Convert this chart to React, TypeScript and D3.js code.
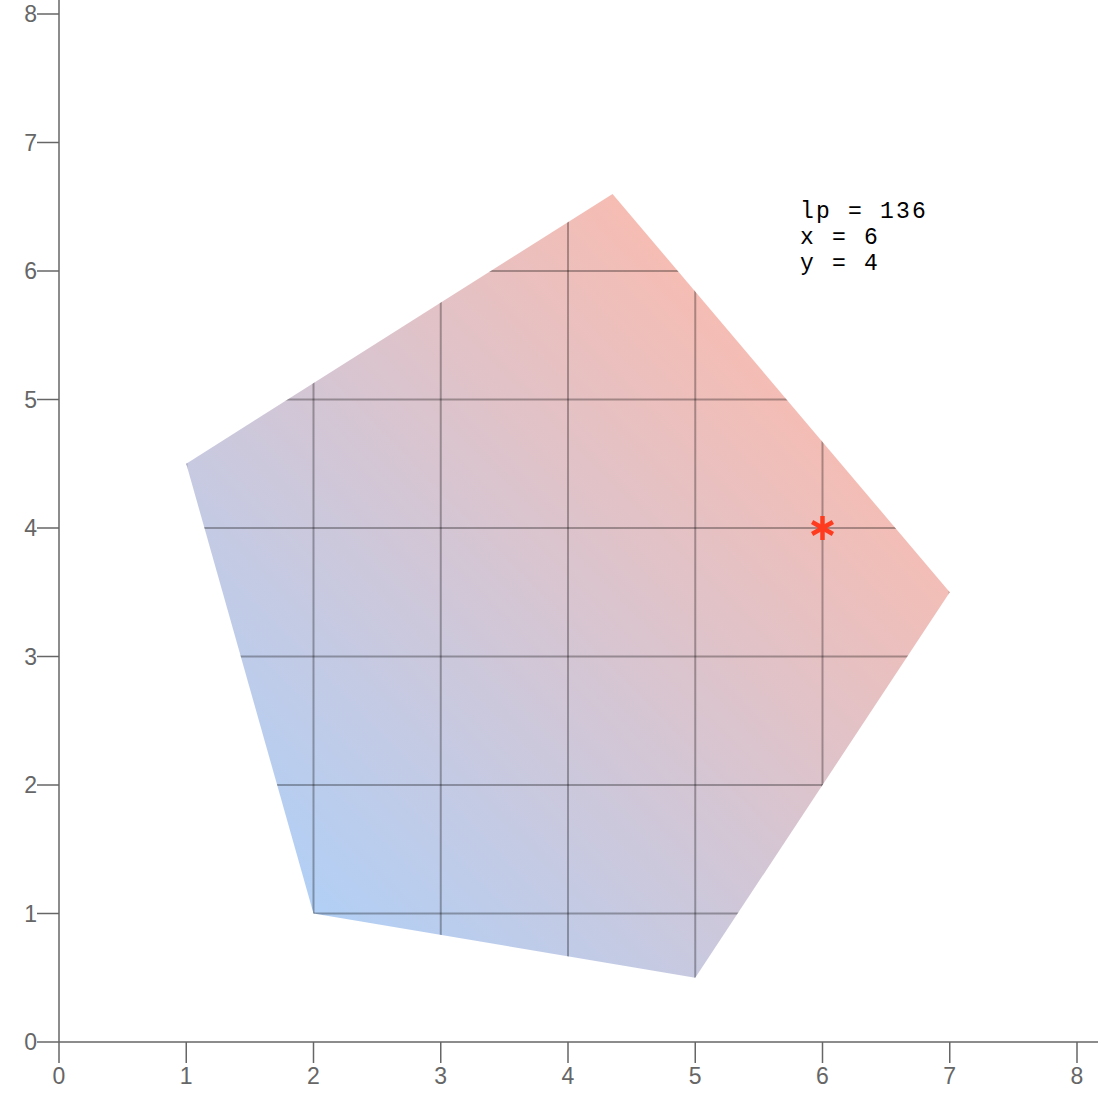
import React from "react";
import * as d3 from "d3";

const polygonX = [1, 2, 5, 7, 4.35];
const polygonY = [4.5, 1, 0.5, 3.5, 6.6];
const gridXs = [1, 2, 3, 4, 5, 6, 7];
const gridYs = [1, 2, 3, 4, 5, 6];
const tickValues = [0, 1, 2, 3, 4, 5, 6, 7, 8];
const pointX = 6;
const pointY = 4;
const infoLines = ["lp = 136", "x = 6", "y = 4"];

const W = 1098;
const H = 1098;

export default function App() {
  const x = d3.scaleLinear().domain([0, 8]).range([59, 1077]);
  const y = d3.scaleLinear().domain([0, 8]).range([1042, 14]);
  const pts: [number, number][] = polygonX.map((v, i) => [x(v), y(polygonY[i])]);
  const line = d3.line();
  const polyPath = line(pts) + "Z";

  const ast = 12;
  const astAngles = [90, 30, 150];

  return (
    <svg width={W} height={H} style={{ position: "absolute", left: 0, top: 0 }}>
      <defs>
        <linearGradient id="grad" x1="0" y1="1" x2="1" y2="0">
          <stop offset="0.1" stopColor="#afd0f8" />
          <stop offset="0.8" stopColor="#f8bcb1" />
        </linearGradient>
        <clipPath id="clip">
          <path d={polyPath} />
        </clipPath>
      </defs>
      <path d={polyPath} fill="url(#grad)" />
      <g clipPath="url(#clip)" stroke="rgba(0,0,0,0.3)" strokeWidth={2}>
        {gridXs.map((v) => (
          <line key={"gx" + v} x1={x(v)} x2={x(v)} y1={y(0)} y2={y(8)} />
        ))}
        {gridYs.map((v) => (
          <line key={"gy" + v} x1={x(0)} x2={x(8)} y1={y(v)} y2={y(v)} />
        ))}
      </g>
      {/* axes */}
      <g stroke="#666" strokeWidth={1.5} fill="none">
        <line x1={x(0)} x2={W} y1={y(0)} y2={y(0)} />
        <line x1={x(0)} x2={x(0)} y1={y(0)} y2={0} />
        {tickValues.map((v) => (
          <line key={"tx" + v} x1={x(v)} x2={x(v)} y1={y(0)} y2={y(0) + 21} />
        ))}
        {tickValues.map((v) => (
          <line key={"ty" + v} x1={x(0) - 22} x2={x(0)} y1={y(v)} y2={y(v)} />
        ))}
      </g>
      <g fill="#666" fontFamily="Liberation Sans, Arial, sans-serif" fontSize={23}>
        {tickValues.map((v) => (
          <text key={"lx" + v} x={x(v)} y={y(0) + 42} textAnchor="middle">
            {v}
          </text>
        ))}
        {tickValues.map((v) => (
          <text key={"ly" + v} x={x(0) - 22} y={y(v) + 8} textAnchor="end">
            {v}
          </text>
        ))}
      </g>
      {/* point */}
      <g stroke="#ff3b1f" strokeWidth={4.5} strokeLinecap="butt">
        {astAngles.map((a) => {
          const r = (a * Math.PI) / 180;
          const dx = Math.cos(r) * ast;
          const dy = Math.sin(r) * ast;
          return (
            <line
              key={"a" + a}
              x1={x(pointX) - dx}
              y1={y(pointY) - dy}
              x2={x(pointX) + dx}
              y2={y(pointY) + dy}
            />
          );
        })}
      </g>
      <g fontFamily="Liberation Mono, Courier New, monospace" fontSize={23} letterSpacing={2.2} fill="#000">
        {infoLines.map((t, i) => (
          <text key={"t" + i} x={800} y={218 + i * 26} xmlSpace="preserve">
            {t}
          </text>
        ))}
      </g>
    </svg>
  );
}
